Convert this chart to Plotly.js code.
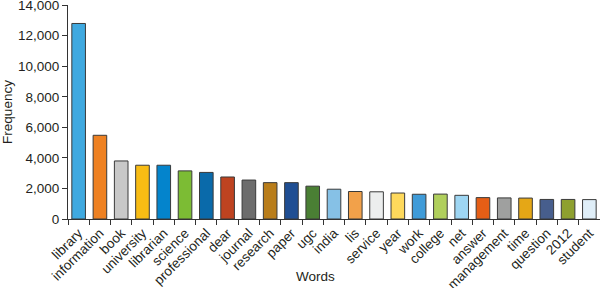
<!DOCTYPE html>
<html><head><meta charset="utf-8">
<script src="https://cdn.plot.ly/plotly-3.0.1.min.js"></script>
<style>html,body{margin:0;padding:0;background:#fff}#c{width:600px;height:288px}</style>
</head><body><div id="c"></div>
<script>
const words = ["library","information","book","university","librarian","science","professional","dear","journal","research","paper","ugc","india","lis","service","year","work","college","net","answer","management","time","question","2012","student"];
const frequency = [12800,5480,3800,3520,3520,3150,3050,2750,2550,2380,2380,2150,1950,1800,1780,1700,1620,1630,1550,1400,1380,1370,1280,1280,1270];
const barColors = ["#3FA9E0","#EE8122","#C8C8C8","#F8BC14","#0484CC","#7CBC34","#0A6AAA","#BE4320","#6D6D6D","#B97D1A","#1F4E93","#4A7F34","#86C1E6","#F2A14A","#ECEEEE","#FED95C","#3F9BD8","#B0CF5C","#9ED6F3","#E55E16","#9FA09F","#E5A716","#475E8D","#8EA02F","#DFEEF8"];
const yTicks = [0,2000,4000,6000,8000,10000,12000,14000];

const txt = "#231F20";
Plotly.newPlot("c", [{
  type: "bar", x: words, y: frequency,
  marker: {color: barColors, line: {color: "#3a3a3a", width: 1}},
  width: 0.64
}], {
  width: 600, height: 288,
  margin: {l: 68, r: 0, t: 5, b: 69},
  paper_bgcolor: "#fff", plot_bgcolor: "#fff",
  font: {family: "Liberation Sans, Arial, sans-serif", size: 13.5, color: txt},
  showlegend: false,
  xaxis: {
    type: "category", tickangle: -45, showline: true, linecolor: "#333", linewidth: 1,
    ticks: "outside", tickson: "boundaries", ticklen: 5, tickcolor: "#333",
    showgrid: false, zeroline: false, fixedrange: true,
    range: [-0.5, 24.5]
  },
  yaxis: {
    range: [0, 14010], tickvals: yTicks, tickformat: ",d", ticklabeloverflow: "allow",
    showline: true, linecolor: "#333", linewidth: 1, ticks: "outside", ticklen: 5, tickcolor: "#333",
    showgrid: false, zeroline: false,
    title: {text: "Frequency", standoff: 6, font: {size: 13.5, color: txt}}
  },
  annotations: [{
    text: "Words", xref: "paper", yref: "paper", x: 0.465, y: -0.225,
    xanchor: "center", yanchor: "top", showarrow: false, font: {size: 13.5, color: txt}
  }]
}, {displayModeBar: false, staticPlot: true});
</script></body></html>
